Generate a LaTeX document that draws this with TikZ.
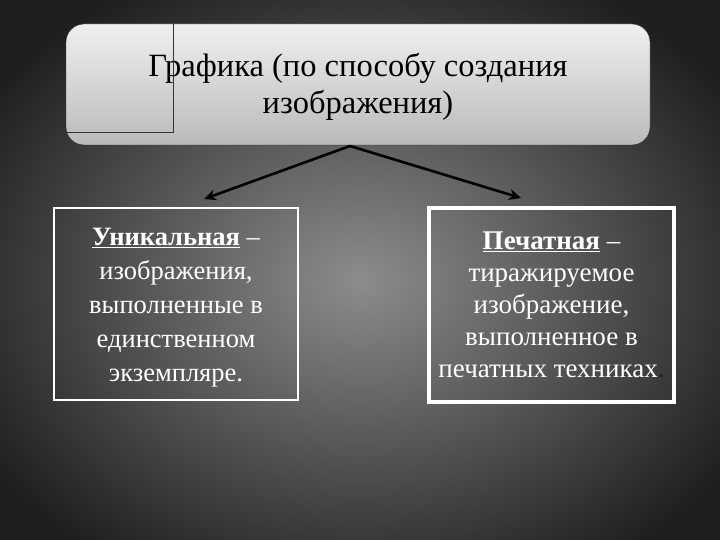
\documentclass[tikz,border=0pt]{standalone}
\usepackage{fontspec}
\setmainfont{Liberation Serif}
\usetikzlibrary{positioning, arrows.meta}
\tikzset{
  topbox/.style={draw=black!85, thin, rounded corners=18pt, top color=black!6, bottom color=black!27,
    minimum width=584pt, minimum height=121pt, align=center, text=black,
    font=\fontsize{32.5}{37}\selectfont},
  kindbox/.style={draw=white, align=center, text=white, inner sep=0pt},
  branch/.style={-{Stealth[length=12pt,width=11pt]}, line width=2.6pt, black},
}
\newcommand{\term}[1]{\underline{\textbf{#1}}}

\begin{document}
\begin{tikzpicture}[x=1pt,y=-1pt]
    \useasboundingbox (0,0) rectangle (720,540);
    % background
    \shade[inner color=black!45, outer color=black!88] (-80,-60) rectangle (800,620);
    % title box
    \node[topbox] (grafika) at (358,84.5) {\rule{0pt}{27pt}Графика (по способу создания\\изображения)};
    \draw[black!80, thin] (173,24) -- (173,132) -- (66,132);
    % two kinds
    \node[kindbox, line width=1.6pt, minimum width=244pt, minimum height=192pt,
          font=\fontsize{26.5}{34}\selectfont] (unik) at (176,304)
        {\rule{0pt}{24pt}\term{Уникальная} –\\изображения,\\выполненные в\\единственном\\экземпляре.};
    \node[kindbox, line width=4pt, minimum width=245pt, minimum height=194pt,
          font=\fontsize{27}{32}\selectfont] (pech) at (551.5,305)
        {\term{Печатная} –\\тиражируемое\\изображение,\\выполненное в\\печатных техниках{\color{black!85}.}};
    % arrows
    \coordinate (fork) at (350,146);
    \coordinate (unikend) at (204,199);
    \coordinate (pechend) at (521,198);
    \draw[branch] (fork) -- (unikend);
    \draw[branch] (fork) -- (pechend);
\end{tikzpicture}
\end{document}
